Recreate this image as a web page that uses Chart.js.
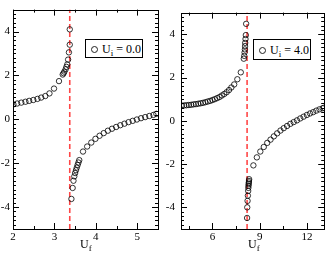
<!DOCTYPE html>
<html>
<head>
<meta charset="utf-8">
<script src="https://cdn.jsdelivr.net/npm/chart.js@4/dist/chart.umd.min.js"></script>
<style>
  body { margin: 0; background: #fff; width: 329px; height: 253px; overflow: hidden; position: relative; font-family: "Liberation Serif", serif; }
  .panel { position: absolute; top: 0; height: 253px; }
  .legend { position: absolute; border: 1px solid #000; background: #fff; font-size: 12px; line-height: 1; white-space: nowrap; box-sizing: border-box; }
  .legend .dot { position: absolute; width: 5px; height: 5px; border: 1px solid #222; border-radius: 50%; }
  .legend .txt { position: absolute; }
  .legend sub, .xtitle sub { font-size: 9px; vertical-align: -3px; }
  .xtitle { position: absolute; font-size: 12px; line-height: 1; }
</style>
</head>
<body>
<div class="panel" style="left:0;width:163px"><canvas id="left"></canvas></div>
<div class="panel" style="left:164px;width:165px"><canvas id="right"></canvas></div>

<div class="legend" style="left:85px;top:39px;width:58px;height:19px">
  <span class="dot" style="left:5px;top:6px"></span>
  <span class="txt" style="left:16px;top:3px">U<sub>i</sub> = 0.0</span>
</div>
<div class="legend" style="left:253px;top:39px;width:58px;height:21px">
  <span class="dot" style="left:5px;top:7px"></span>
  <span class="txt" style="left:16px;top:4px">U<sub>i</sub> = 4.0</span>
</div>
<div class="xtitle" style="left:80px;top:238px">U<sub>f</sub></div>
<div class="xtitle" style="left:248px;top:238px">U<sub>f</sub></div>

<script>
// U_i = 0.0 panel, branch below the resonance
const lowBranchX0 = [2.01, 2.10, 2.20, 2.30, 2.39, 2.49, 2.59, 2.68, 2.78, 2.88, 2.99, 3.11, 3.20, 3.22, 3.24, 3.27, 3.29, 3.31, 3.33, 3.35, 3.37, 3.37];
const lowBranchY0 = [0.68, 0.72, 0.76, 0.80, 0.84, 0.88, 0.93, 0.99, 1.06, 1.18, 1.40, 1.74, 2.04, 2.10, 2.17, 2.28, 2.39, 2.50, 2.72, 3.05, 3.40, 4.10];
// U_i = 0.0 panel, branch above the resonance
const highBranchX0 = [3.41, 3.44, 3.46, 3.48, 3.50, 3.52, 3.54, 3.56, 3.58, 3.60, 3.69, 3.79, 3.89, 3.99, 4.09, 4.19, 4.29, 4.39, 4.49, 4.59, 4.69, 4.79, 4.89, 4.99, 5.09, 5.19, 5.29, 5.39, 5.46];
const highBranchY0 = [-3.63, -3.13, -2.80, -2.60, -2.45, -2.32, -2.20, -2.08, -1.97, -1.86, -1.47, -1.24, -1.06, -0.89, -0.75, -0.63, -0.52, -0.43, -0.35, -0.27, -0.20, -0.13, -0.07, -0.01, 0.05, 0.10, 0.15, 0.20, 0.25];

// U_i = 4.0 panel
const lowBranchX4 = [4.05, 4.2, 4.35, 4.5, 4.65, 4.8, 4.95, 5.1, 5.25, 5.4, 5.55, 5.7, 5.85, 6.0, 6.15, 6.3, 6.45, 6.6, 6.75, 6.9, 7.05, 7.2, 7.38, 7.58, 7.8, 7.99, 8.02, 8.04, 8.06, 8.07, 8.08, 8.10, 8.12, 8.14];
const lowBranchY4 = [0.70, 0.71, 0.72, 0.73, 0.74, 0.76, 0.77, 0.79, 0.81, 0.83, 0.86, 0.89, 0.92, 0.96, 1.00, 1.05, 1.10, 1.17, 1.24, 1.32, 1.42, 1.54, 1.68, 1.92, 2.24, 2.87, 3.00, 3.16, 3.30, 3.45, 3.60, 3.78, 3.96, 4.48];
const highBranchX4 = [8.20, 8.21, 8.23, 8.25, 8.27, 8.28, 8.29, 8.30, 8.31, 8.32, 8.33, 8.60, 8.82, 9.04, 9.26, 9.48, 9.69, 9.90, 10.11, 10.32, 10.53, 10.74, 10.95, 11.16, 11.37, 11.58, 11.79, 12.00, 12.20, 12.40, 12.60, 12.80, 13.00, 13.08];
const highBranchY4 = [-4.49, -4.00, -3.70, -3.46, -3.24, -3.10, -3.00, -2.92, -2.85, -2.78, -2.70, -2.06, -1.69, -1.42, -1.21, -1.02, -0.87, -0.72, -0.58, -0.45, -0.34, -0.24, -0.14, -0.06, 0.02, 0.11, 0.19, 0.27, 0.34, 0.40, 0.47, 0.53, 0.58, 0.60];

// resonance positions (red dashed lines)
const resonance0 = 3.37;
const resonance4 = 8.2;

// tick labels
const yTicks = [-4, -2, 0, 2, 4];
const xTicks0 = [2, 3, 4, 5];
const xTicks4 = [6, 9, 12];

function toPoints(xs, ys) {
  return xs.map((x, i) => ({ x: x, y: ys[i] }));
}

// box frame plus inward ticks on all four sides
const framePlugin = {
  id: "frame",
  afterDatasetsDraw(chart, args, opts) {
    const { ctx, chartArea: a, scales } = chart;
    ctx.save();
    ctx.strokeStyle = "#000";
    ctx.lineWidth = 1;
    const tick = (vals, len, horiz) => {
      vals.forEach(v => {
        if (horiz) {
          const px = Math.round(scales.x.getPixelForValue(v)) + 0.5;
          ctx.beginPath();
          ctx.moveTo(px, a.bottom); ctx.lineTo(px, a.bottom - len);
          ctx.moveTo(px, a.top); ctx.lineTo(px, a.top + len);
          ctx.stroke();
        } else {
          const py = Math.round(scales.y.getPixelForValue(v)) + 0.5;
          ctx.beginPath();
          ctx.moveTo(a.left, py); ctx.lineTo(a.left + len, py);
          ctx.moveTo(a.right, py); ctx.lineTo(a.right - len, py);
          ctx.stroke();
        }
      });
    };
    tick(opts.xMajor, 6, true);
    tick(opts.xMinor, 3, true);
    tick(yTicks, 6, false);
    const yMinor = [];
    for (let v = -4.8; v < 5; v += 0.2) {
      const r = Math.round(v * 10) / 10;
      if (Math.abs(r / 2 - Math.round(r / 2)) > 0.01) yMinor.push(r);
    }
    tick(yMinor, 3, false);
    ctx.strokeRect(Math.round(a.left) + 0.5, Math.round(a.top) + 0.5, Math.round(a.right - a.left), Math.round(a.bottom - a.top));
    ctx.restore();
  }
};

function makeChart(id, lowX, lowY, highX, highY, resonance, xMin, xMax, xMajor, xMinor, yAxisWidth, yPad, padRight) {
  const pointStyle = {
    type: "scatter",
    showLine: false,
    pointStyle: "circle",
    pointRadius: 2.7,
    pointBorderWidth: 0.8,
    borderColor: "#000",
    backgroundColor: "rgba(0,0,0,0)",
  };
  return new Chart(document.getElementById(id), {
    type: "scatter",
    data: {
      datasets: [
        { ...pointStyle, data: toPoints(lowX, lowY) },
        { ...pointStyle, data: toPoints(highX, highY) },
        {
          type: "line",
          data: [{ x: resonance, y: -5 }, { x: resonance, y: 5 }],
          borderColor: "rgba(255,50,50,0.9)",
          borderWidth: 1.6,
          borderDash: [5, 3],
          pointRadius: 0,
        },
      ],
    },
    options: {
      responsive: false,
      animation: false,
      events: [],
      layout: { padding: { top: 2, right: padRight, left: 0, bottom: 0 } },
      plugins: {
        legend: { display: false },
        tooltip: { enabled: false },
        frame: { xMajor: xMajor, xMinor: xMinor },
      },
      scales: {
        x: {
          type: "linear",
          min: xMin,
          max: xMax,
          grid: { display: false, drawTicks: false, tickLength: 0 },
          border: { display: false },
          afterBuildTicks: s => { s.ticks = xMajor.map(v => ({ value: v })); },
          afterFit: s => { s.height = 24; },
          ticks: { color: "#000", padding: 2, maxRotation: 0, font: { family: "Liberation Serif", size: 11 } },
        },
        y: {
          type: "linear",
          min: -5,
          max: 5,
          grid: { display: false, drawTicks: false, tickLength: 0 },
          border: { display: false },
          afterBuildTicks: s => { s.ticks = yTicks.map(v => ({ value: v })); },
          afterFit: s => { s.width = yAxisWidth; },
          ticks: { color: "#000", padding: yPad, font: { family: "Liberation Serif", size: 11 } },
        },
      },
    },
    plugins: [framePlugin],
  });
}

function sizeCanvas(id, w) {
  const c = document.getElementById(id);
  c.width = w; c.height = 253;
  c.style.width = w + "px"; c.style.height = "253px";
}

sizeCanvas("left", 163);
sizeCanvas("right", 165);
makeChart("left", lowBranchX0, lowBranchY0, highBranchX0, highBranchY0, resonance0, 2, 5.5, xTicks0, [2.5, 3.5, 4.5], 13, 3, 5);
makeChart("right", lowBranchX4, lowBranchY4, highBranchX4, highBranchY4, resonance4, 4, 13.1, xTicks4, [4.5, 7.5, 10.5], 17, 6, 3);
</script>
</body>
</html>
